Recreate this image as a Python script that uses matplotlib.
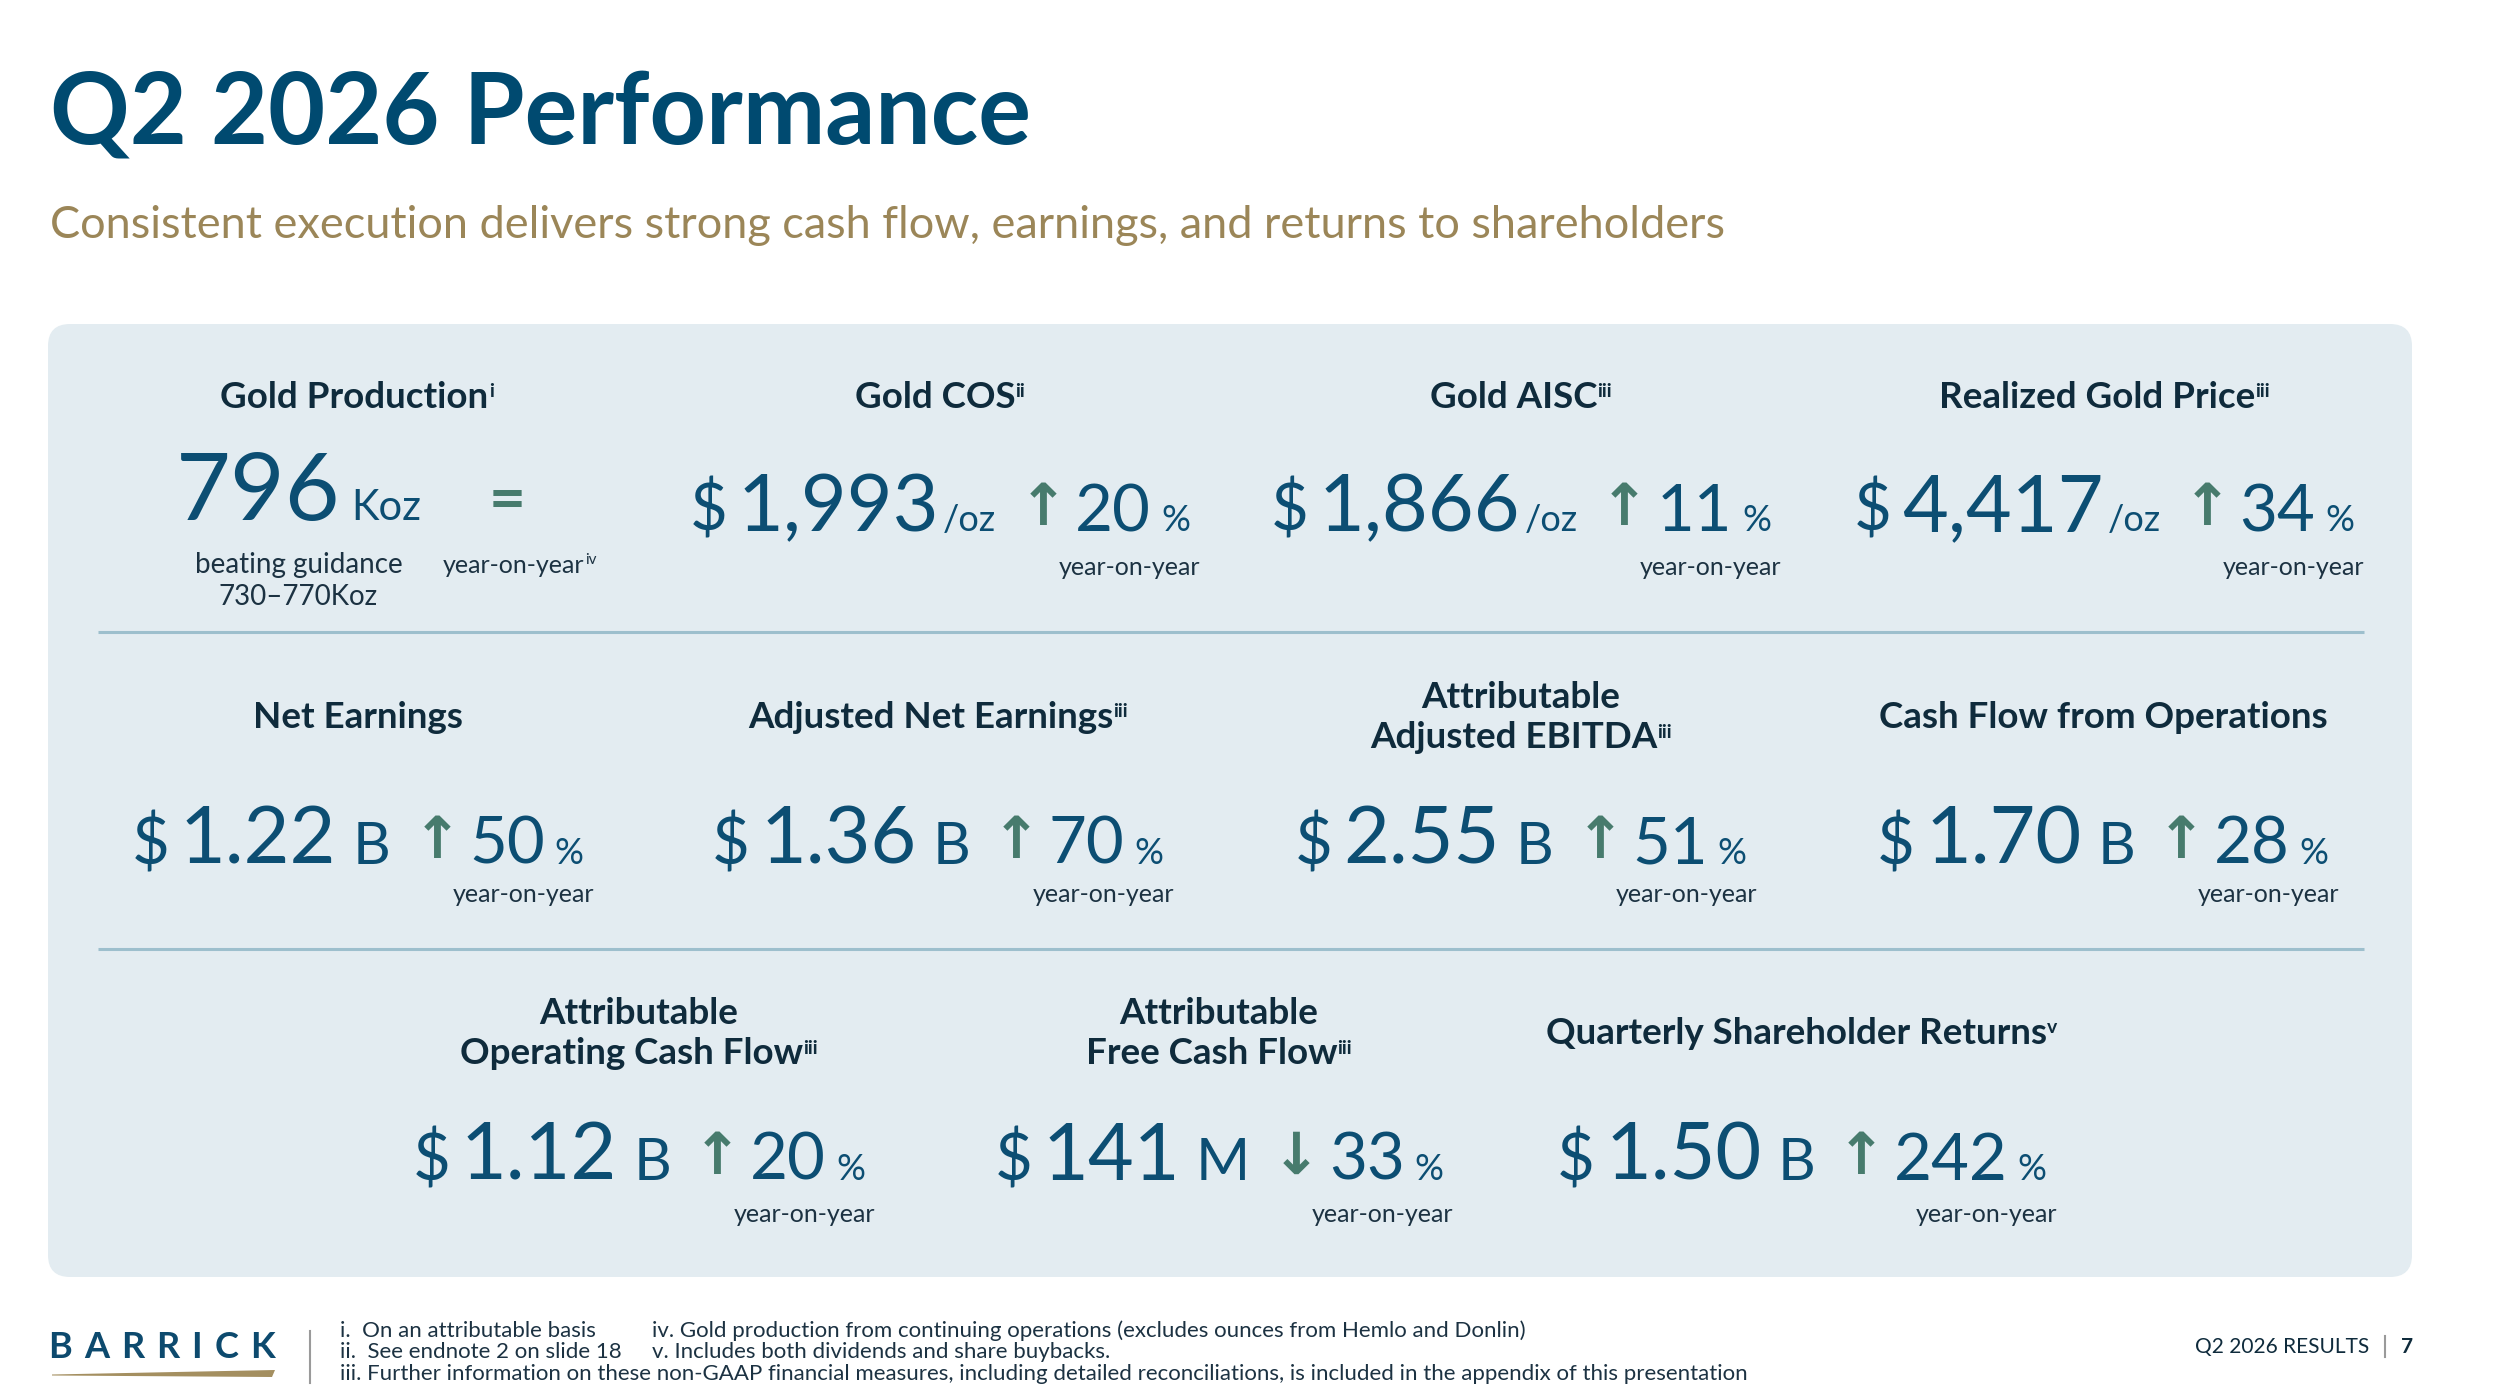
import matplotlib
matplotlib.use('Agg')
import matplotlib.pyplot as plt
from matplotlib.patches import FancyBboxPatch, Polygon

plt.rcParams['font.family'] = ['Lato', 'DejaVu Sans']

# ---- data ----
metric_titles = [
    ['Gold Production'], ['Gold COS'], ['Gold AISC'], ['Realized Gold Price'],
    ['Net Earnings'], ['Adjusted Net Earnings'], ['Attributable', 'Adjusted EBITDA'],
    ['Cash Flow from Operations'],
    ['Attributable', 'Operating Cash Flow'], ['Attributable', 'Free Cash Flow'],
    ['Quarterly Shareholder Returns'],
]
title_notes = ['i', 'ii', 'iii', 'iii', '', 'iii', 'iii', '', 'iii', 'iii', 'v']
metric_prefix = ['', '$', '$', '$', '$', '$', '$', '$', '$', '$', '$']
metric_values = ['796', '1,993', '1,866', '4,417', '1.22', '1.36', '2.55', '1.70',
                 '1.12', '141', '1.50']
metric_units = ['Koz', '/oz', '/oz', '/oz', 'B', 'B', 'B', 'B', 'B', 'M', 'B']
yoy_pct = [0, 20, 11, 34, 50, 70, 51, 28, 20, -33, 242]
guidance_range = (730, 770)

footnotes_left = ['i.  On an attributable basis', 'ii.  See endnote 2 on slide 18',
                  'iii. Further information on these non-GAAP financial measures, including '
                  'detailed reconciliations, is included in the appendix of this presentation']
footnotes_right = ['iv. Gold production from continuing operations (excludes ounces from Hemlo and Donlin)',
                   'v. Includes both dividends and share buybacks.']

# ---- layout / style ----
row_of = [0, 0, 0, 0, 1, 1, 1, 1, 2, 2, 2]
col_x = [[357, 940, 1521, 2104], [358, 938, 1521, 2103], [639, 1219, 1802]]
head_y = [408, 728, 1044]
num_y = [531, 864, 1180]
yoy_y = [575, 902, 1222]

NAVY = '#004A70'
NUM = '#0C4E73'
HEAD = '#0F2B3C'
GOLD = '#9B8658'
GREEN = '#477B6D'
PANEL = '#E3ECF1'
RULE = '#9DBFCD'
TXT = '#1C3242'

fig = plt.figure(figsize=(24.94, 13.9), dpi=100)
ax = fig.add_axes([0, 0, 1, 1])
ax.set_xlim(0, 2494)
ax.set_ylim(1390, 0)
ax.axis('off')
renderer = fig.canvas.get_renderer()


def width_of(s, **kw):
    t = ax.text(0, 0, s, **kw)
    w = t.get_window_extent(renderer).width
    t.remove()
    return w


def run(pieces, x, y, anchor='center'):
    # pieces: (text, gap before, text kwargs, rise)
    widths = [width_of(p[0], **p[2]) for p in pieces]
    total = sum(widths) + sum(p[1] for p in pieces)
    cur = x - total / 2 if anchor == 'center' else (x - total if anchor == 'right' else x)
    spans = []
    for (s, gap, kw, rise), w in zip(pieces, widths):
        cur += gap
        ax.text(cur, y - rise, s, ha='left', va='baseline', **kw)
        spans.append((cur, cur + w))
        cur += w
    return spans


head_kw = dict(fontsize=26.5, fontweight='bold', color=HEAD)
sup_kw = dict(fontsize=14, fontweight='bold', color=HEAD)
yoy_kw = dict(fontsize=18, color=TXT)
dollar_kw = dict(fontsize=47, color=NUM)
num_kw = dict(fontsize=57, color=NUM)
pct_kw = dict(fontsize=47, color=NUM)
pcts_kw = dict(fontsize=26, color=NUM)
arrow_kw = dict(fontsize=42, fontweight='bold', color=GREEN, family='DejaVu Sans')

# title + subtitle
ax.text(50, 143, 'Q2 2026 Performance', fontsize=71, fontweight='bold', color=NAVY,
        ha='left', va='baseline')
ax.text(50, 238, 'Consistent execution delivers strong cash flow, earnings, and returns to shareholders',
        fontsize=32.5, color=GOLD, ha='left', va='baseline')

# panel and rules
ax.add_patch(FancyBboxPatch((48, 324), 2364, 953, boxstyle='round,pad=0,rounding_size=22',
                            facecolor=PANEL, edgecolor='none'))
for ry in [632, 949]:
    ax.plot([98, 2364], [ry, ry], color=RULE, lw=2.2, solid_capstyle='butt')

for i, title in enumerate(metric_titles):
    r = row_of[i]
    cx = col_x[r][[k for k in range(len(row_of)) if row_of[k] == r].index(i)]
    # header lines
    n = len(title)
    for j, line in enumerate(title):
        by = head_y[r] + (j - (n - 1) / 2) * 41
        pieces = [(line, 0, head_kw, 0)]
        if j == n - 1 and title_notes[i]:
            pieces.append((title_notes[i], 0, sup_kw, 11))
        run(pieces, cx, by)

    if yoy_pct[i] == 0:
        # production: value + equal sign
        spans = run([(metric_values[i], 0, dict(fontsize=68, color=NUM), 0),
                     (metric_units[i], 10, dict(fontsize=30, color=NUM), 0),
                     ('=', 68, dict(fontsize=46, fontweight='bold', color=GREEN), 0)],
                    cx - 6, 520)
        mid = (spans[0][0] + spans[1][1]) / 2
        ax.text(mid, 573, 'beating guidance', fontsize=20, color=TXT, ha='center', va='baseline')
        ax.text(mid, 605, f'{guidance_range[0]}\u2013{guidance_range[1]}Koz', fontsize=20,
                color=TXT, ha='center', va='baseline')
        eq_mid = (spans[2][0] + spans[2][1]) / 2 + 12
        run([('year-on-year', 0, yoy_kw, 0), ('iv', 1, dict(fontsize=11, color=TXT), 9)],
            eq_mid, 573)
        continue

    slash = metric_units[i].startswith('/')
    unit_kw = dict(fontsize=26, color=NUM) if slash else dict(fontsize=42, color=NUM)
    unit_gap = 4 if slash else 16
    arrow = '\u2191' if yoy_pct[i] > 0 else '\u2193'
    spans = run([(metric_prefix[i], 0, dollar_kw, 0),
                 (metric_values[i], 10, num_kw, 0),
                 (metric_units[i], unit_gap, unit_kw, 0),
                 (arrow, 22, arrow_kw, 6),
                 (str(abs(yoy_pct[i])), 8, pct_kw, 0),
                 ('%', 10, pcts_kw, 0)], cx, num_y[r])
    ax.text(spans[-1][1] + 10, yoy_y[r], 'year-on-year', ha='right', va='baseline', **yoy_kw)

# footer: logo
logo_kw = dict(fontsize=26, fontweight='bold', color='#0D4A6E')
letters = list('BARRICK')
lw = [width_of(c, **logo_kw) for c in letters]
track = (227 - sum(lw)) / (len(letters) - 1)
lx = 48
for c, w in zip(letters, lw):
    ax.text(lx, 1358, c, ha='left', va='baseline', **logo_kw)
    lx += w + track
ax.add_patch(Polygon([(52, 1374.5), (275, 1370), (272, 1377), (52, 1375.5)], closed=True,
                     facecolor='#A48F60', edgecolor='none'))
ax.plot([310, 310], [1331, 1383], color='#9A9A9A', lw=1.5)

for k, line in enumerate(footnotes_left):
    ax.text(340, 1331 + k * 21.5, line, fontsize=16, color=TXT, ha='left', va='center')
for k, line in enumerate(footnotes_right):
    ax.text(652, 1331 + k * 21.5, line, fontsize=16, color=TXT, ha='left', va='center')

ax.text(2369, 1347, 'Q2 2026 RESULTS', fontsize=15, color=HEAD, ha='right', va='center')
ax.plot([2385, 2385], [1336, 1357], color='#9A9A9A', lw=1.5)
ax.text(2401, 1347, '7', fontsize=15, fontweight='bold', color=HEAD, ha='left', va='center')

fig.savefig('out.png', dpi=100, facecolor='white')
